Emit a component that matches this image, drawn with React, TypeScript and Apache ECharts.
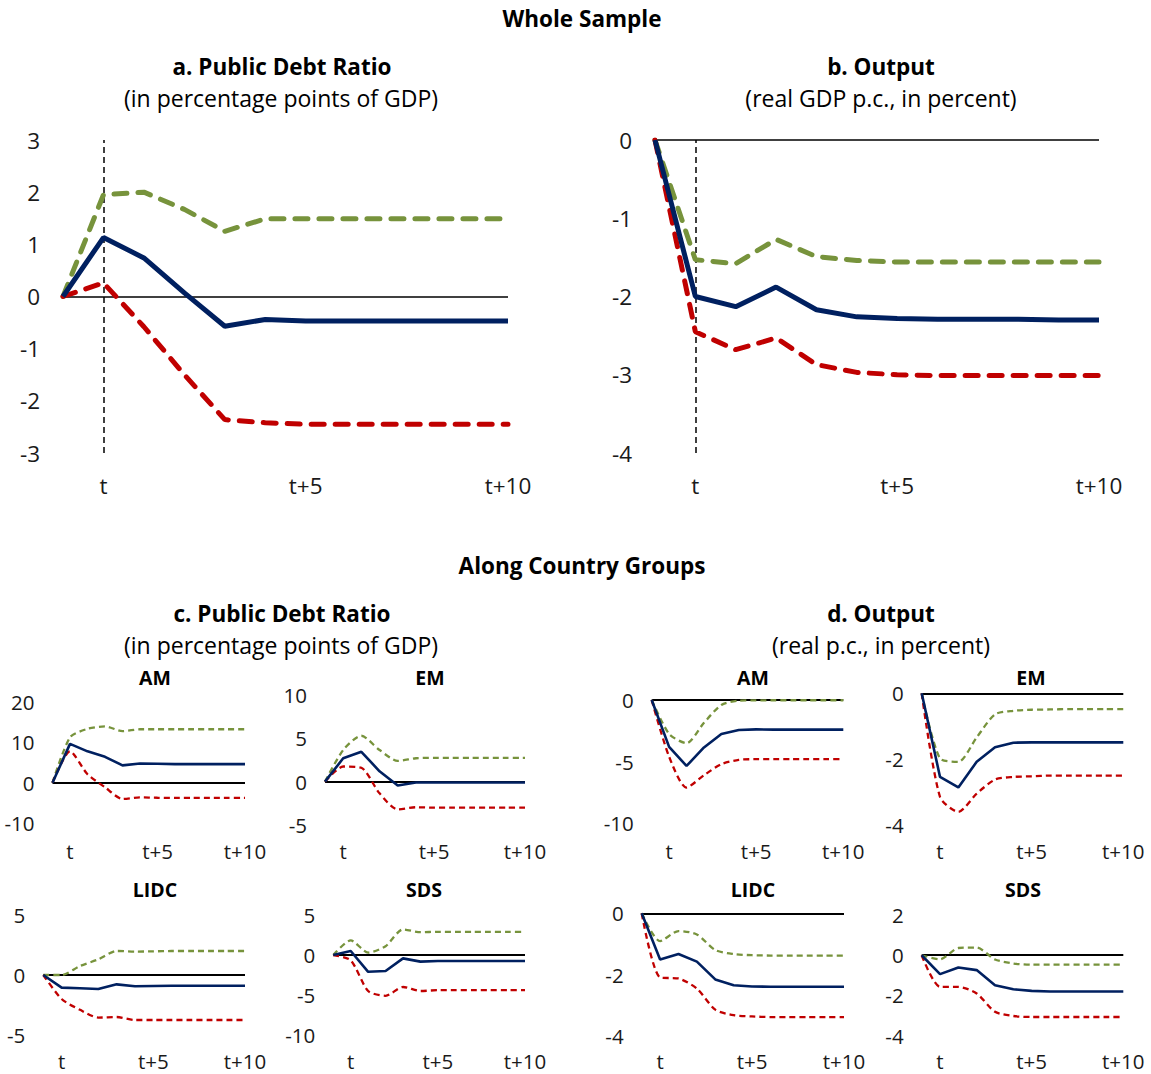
import React, { useEffect, useRef } from "react";
import * as echarts from "echarts";

const categories = ["t-1", "t", "t+1", "t+2", "t+3", "t+4", "t+5", "t+6", "t+7", "t+8", "t+9", "t+10"];
const shownLabels = ["t", "t+5", "t+10"];

// a. Public Debt Ratio (whole sample)
const aBlue = [0, 1.13, 0.74, 0.07, -0.57, -0.44, -0.47, -0.47, -0.47, -0.47, -0.47, -0.47];
const aGreen = [0, 1.95, 2.0, 1.67, 1.25, 1.49, 1.49, 1.49, 1.49, 1.49, 1.49, 1.49];
const aRed = [0, 0.26, -0.58, -1.5, -2.36, -2.42, -2.45, -2.45, -2.45, -2.45, -2.45, -2.45];

// b. Output (whole sample)
const bBlue = [0, -2.0, -2.13, -1.88, -2.17, -2.26, -2.28, -2.29, -2.29, -2.29, -2.3, -2.3];
const bGreen = [0, -1.53, -1.58, -1.27, -1.49, -1.54, -1.56, -1.56, -1.56, -1.56, -1.56, -1.56];
const bRed = [0, -2.45, -2.68, -2.53, -2.87, -2.97, -3.0, -3.01, -3.01, -3.01, -3.01, -3.01];

// c. Public Debt Ratio by group
const cAMBlue = [0, 9.6, 7.75, 6.4, 4.3, 4.75, 4.7, 4.6, 4.6, 4.6, 4.6, 4.6];
const cAMGreen = [0, 11.2, 13.3, 13.9, 12.75, 13.2, 13.2, 13.2, 13.2, 13.2, 13.2, 13.2];
const cAMRed = [0, 7.75, 2.1, -1.1, -4.0, -3.6, -3.7, -3.75, -3.75, -3.75, -3.75, -3.75];

const cEMBlue = [0, 2.7, 3.45, 1.2, -0.45, -0.1, -0.1, -0.1, -0.1, -0.1, -0.1, -0.1];
const cEMGreen = [0, 3.65, 5.3, 3.65, 2.4, 2.7, 2.75, 2.75, 2.75, 2.75, 2.75, 2.75];
const cEMRed = [0, 1.75, 1.6, -1.35, -3.2, -2.95, -3.0, -3.0, -3.0, -3.0, -3.0, -3.0];

const cLIDCBlue = [0, -1.05, -1.1, -1.17, -0.78, -0.94, -0.92, -0.9, -0.9, -0.9, -0.9, -0.9];
const cLIDCGreen = [0, 0, 0.75, 1.3, 2.0, 1.95, 1.97, 2.0, 2.0, 2.0, 2.0, 2.0];
const cLIDCRed = [0, -2.0, -2.9, -3.55, -3.5, -3.75, -3.75, -3.75, -3.75, -3.75, -3.75, -3.75];

const cSDSBlue = [0, 0.5, -2.1, -2.0, -0.42, -0.83, -0.75, -0.75, -0.75, -0.75, -0.75, -0.75];
const cSDSGreen = [0, 1.83, 0.3, 1.1, 3.2, 2.85, 2.9, 2.9, 2.9, 2.9, 2.9, 2.9];
const cSDSRed = [0, -0.67, -4.5, -5.1, -4.0, -4.5, -4.4, -4.4, -4.4, -4.4, -4.4, -4.4];

// d. Output by group
const dAMBlue = [0, -3.8, -5.35, -3.85, -2.75, -2.43, -2.38, -2.4, -2.4, -2.4, -2.4, -2.4];
const dAMGreen = [0, -2.75, -3.5, -1.85, -0.4, -0.05, -0.03, -0.02, -0.02, -0.02, -0.02, -0.02];
const dAMRed = [0, -4.6, -7.1, -6.1, -5.2, -4.85, -4.8, -4.8, -4.8, -4.8, -4.8, -4.8];

const dEMBlue = [0, -2.54, -2.86, -2.08, -1.64, -1.5, -1.49, -1.49, -1.49, -1.49, -1.49, -1.49];
const dEMGreen = [0, -1.98, -2.08, -1.34, -0.64, -0.53, -0.5, -0.49, -0.48, -0.48, -0.48, -0.48];
const dEMRed = [0, -3.15, -3.6, -3.05, -2.62, -2.54, -2.52, -2.5, -2.5, -2.5, -2.5, -2.5];

const dLIDCBlue = [0, -1.51, -1.33, -1.58, -2.16, -2.35, -2.39, -2.4, -2.4, -2.4, -2.4, -2.4];
const dLIDCGreen = [0, -0.91, -0.58, -0.69, -1.2, -1.33, -1.37, -1.38, -1.38, -1.38, -1.38, -1.38];
const dLIDCRed = [0, -2.1, -2.13, -2.46, -3.15, -3.33, -3.37, -3.39, -3.39, -3.39, -3.39, -3.39];

const dSDSBlue = [0, -0.94, -0.61, -0.74, -1.49, -1.69, -1.77, -1.8, -1.8, -1.8, -1.8, -1.8];
const dSDSGreen = [0, -0.2, 0.36, 0.38, -0.21, -0.41, -0.47, -0.47, -0.47, -0.47, -0.47, -0.47];
const dSDSRed = [0, -1.57, -1.57, -1.9, -2.81, -3.02, -3.07, -3.07, -3.07, -3.07, -3.07, -3.07];

const BLUE = "#002060";
const GREEN = "#77933C";
const RED = "#C00000";
const TXT = "#1a1a1a";
const FONT = "'Open Sans', 'Noto Sans', sans-serif";

type Panel = {
  left: number; top: number; width: number; height: number;
  min: number; max: number; interval: number;
  labelY: number; big: boolean; smooth: boolean; vline: boolean;
  blue: number[]; green: number[]; red: number[];
};

const panels: Panel[] = [
  { left: 63, top: 140, width: 445, height: 313, min: -3, max: 3, interval: 1, labelY: 485, big: true, smooth: false, vline: true, blue: aBlue, green: aGreen, red: aRed },
  { left: 655, top: 140, width: 444, height: 313, min: -4, max: 0, interval: 1, labelY: 485, big: true, smooth: false, vline: true, blue: bBlue, green: bGreen, red: bRed },
  { left: 52.5, top: 701.7, width: 192.5, height: 121.6, min: -10, max: 20, interval: 10, labelY: 851, big: false, smooth: true, vline: false, blue: cAMBlue, green: cAMGreen, red: cAMRed },
  { left: 325, top: 695, width: 200, height: 130, min: -5, max: 10, interval: 5, labelY: 851, big: false, smooth: true, vline: false, blue: cEMBlue, green: cEMGreen, red: cEMRed },
  { left: 651.7, top: 700, width: 191.6, height: 123.3, min: -10, max: 0, interval: 5, labelY: 851, big: false, smooth: true, vline: false, blue: dAMBlue, green: dAMGreen, red: dAMRed },
  { left: 921.7, top: 693.3, width: 201.6, height: 131.7, min: -4, max: 0, interval: 2, labelY: 851, big: false, smooth: true, vline: false, blue: dEMBlue, green: dEMGreen, red: dEMRed },
  { left: 43.3, top: 915, width: 201.7, height: 120, min: -5, max: 5, interval: 5, labelY: 1061, big: false, smooth: true, vline: false, blue: cLIDCBlue, green: cLIDCGreen, red: cLIDCRed },
  { left: 333.3, top: 915, width: 191.7, height: 120, min: -10, max: 5, interval: 5, labelY: 1061, big: false, smooth: true, vline: false, blue: cSDSBlue, green: cSDSGreen, red: cSDSRed },
  { left: 641.7, top: 913.3, width: 202.3, height: 122.4, min: -4, max: 0, interval: 2, labelY: 1061, big: false, smooth: true, vline: false, blue: dLIDCBlue, green: dLIDCGreen, red: dLIDCRed },
  { left: 921.7, top: 915, width: 201.6, height: 120.7, min: -4, max: 2, interval: 2, labelY: 1061, big: false, smooth: true, vline: false, blue: dSDSBlue, green: dSDSGreen, red: dSDSRed },
];

const texts: { t: string; x: number; y: number; bold: boolean; size: number }[] = [
  { t: "Whole Sample", x: 582, y: 18, bold: true, size: 22.5 },
  { t: "a. Public Debt Ratio", x: 282, y: 66, bold: true, size: 22.5 },
  { t: "(in percentage points of GDP)", x: 281, y: 98, bold: false, size: 23 },
  { t: "b. Output", x: 881, y: 66, bold: true, size: 22.5 },
  { t: "(real GDP p.c., in percent)", x: 881, y: 98, bold: false, size: 23 },
  { t: "Along Country Groups", x: 582, y: 565, bold: true, size: 22.5 },
  { t: "c. Public Debt Ratio", x: 282, y: 613, bold: true, size: 22.5 },
  { t: "(in percentage points of GDP)", x: 281, y: 645, bold: false, size: 23 },
  { t: "d. Output", x: 881, y: 613, bold: true, size: 22.5 },
  { t: "(real p.c., in percent)", x: 881, y: 645, bold: false, size: 23 },
  { t: "AM", x: 155, y: 677, bold: true, size: 19.5 },
  { t: "EM", x: 430, y: 677, bold: true, size: 19.5 },
  { t: "AM", x: 753, y: 677, bold: true, size: 19.5 },
  { t: "EM", x: 1031, y: 677, bold: true, size: 19.5 },
  { t: "LIDC", x: 155, y: 889, bold: true, size: 19.5 },
  { t: "SDS", x: 424, y: 889, bold: true, size: 19.5 },
  { t: "LIDC", x: 753, y: 889, bold: true, size: 19.5 },
  { t: "SDS", x: 1023, y: 889, bold: true, size: 19.5 },
];

function buildOption() {
  const grid: any[] = [];
  const xAxis: any[] = [];
  const yAxis: any[] = [];
  const series: any[] = [];
  panels.forEach((p, i) => {
    const fs = p.big ? 22.5 : 20.5;
    grid.push({ left: p.left, top: p.top, width: p.width, height: p.height, containLabel: false });
    xAxis.push({
      type: "category", gridIndex: i, data: categories, boundaryGap: false,
      axisLine: { show: false }, axisTick: { show: false }, splitLine: { show: false },
      axisLabel: {
        interval: (_idx: number, v: string) => shownLabels.indexOf(v) >= 0,
        color: TXT, fontSize: fs, fontFamily: FONT,
        margin: p.labelY - (p.top + p.height) - fs / 2,
      },
    });
    yAxis.push({
      type: "value", gridIndex: i, min: p.min, max: p.max, interval: p.interval,
      axisLine: { show: false }, axisTick: { show: false }, splitLine: { show: false },
      axisLabel: { color: TXT, fontSize: fs, fontFamily: FONT, margin: p.big ? 23 : 18 },
    });
    const lw = p.big ? 5 : 2.3;
    const dash = p.big ? [13, 11] : [6, 4];
    const markData: any[] = [
      { yAxis: 0, lineStyle: { color: "#000", width: p.big ? 1.5 : 2, type: "solid" } },
    ];
    if (p.vline) {
      markData.push({ xAxis: "t", lineStyle: { color: "#000", width: 1.5, type: [6, 4] } });
    }
    series.push({
      type: "line", xAxisIndex: i, yAxisIndex: i, data: p.green, showSymbol: false, symbol: "none",
      smooth: p.smooth ? 0.25 : false, z: 2,
      lineStyle: { color: GREEN, width: lw, type: dash, cap: p.big ? "round" : "butt" },
      markLine: { silent: true, symbol: "none", label: { show: false }, data: markData, z: 1 },
    });
    series.push({
      type: "line", xAxisIndex: i, yAxisIndex: i, data: p.red, showSymbol: false, symbol: "none",
      smooth: p.smooth ? 0.25 : false, z: 3,
      lineStyle: { color: RED, width: lw, type: dash, cap: p.big ? "round" : "butt" },
    });
    series.push({
      type: "line", xAxisIndex: i, yAxisIndex: i, data: p.blue, showSymbol: false, symbol: "none",
      smooth: false, z: 4,
      lineStyle: { color: BLUE, width: p.big ? 5 : 2.6, type: "solid" },
    });
  });
  const graphic = texts.map((t) => ({
    type: "text", x: t.x, y: t.y, silent: true,
    style: {
      text: t.t, fill: "#000",
      font: `${t.bold ? "bold " : ""}${t.size}px ${FONT}`,
      fontSize: t.size, fontWeight: t.bold ? "bold" : "normal", fontFamily: FONT,
      textAlign: "center", textVerticalAlign: "middle", align: "center", verticalAlign: "middle",
    },
  }));
  return { animation: false, backgroundColor: "#fff", grid, xAxis, yAxis, series, graphic };
}

export default function App() {
  const ref = useRef<HTMLDivElement>(null);
  useEffect(() => {
    document.body.style.margin = "0";
    if (!ref.current) return;
    const chart = echarts.init(ref.current, undefined, { renderer: "svg" });
    chart.setOption(buildOption() as any);
    return () => chart.dispose();
  }, []);
  return <div ref={ref} style={{ width: 1151, height: 1074 }} />;
}
